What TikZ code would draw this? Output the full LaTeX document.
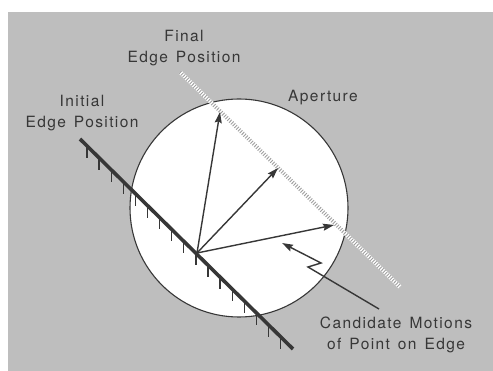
\documentclass[tikz,border=0pt]{standalone}
\usepackage{fontspec}
\setmainfont{TeX Gyre Heros}[LetterSpace=9,WordSpace=1.4]
\usetikzlibrary{arrows.meta,calc}
\definecolor{bggray}{RGB}{190,190,190}
\definecolor{ink}{RGB}{55,55,55}

\begin{document}
\begin{tikzpicture}[x=1pt,y=-1pt,
  lbl/.style={text=ink,font=\fontsize{15.5}{18}\selectfont,inner sep=0pt,align=center},
  arr/.style={draw=ink,line width=1.4pt,-{Stealth[length=11pt,width=7pt,inset=1.5pt]}},
  edge/.style={draw=ink,line width=3.6pt},
  tick/.style={draw=ink,line width=1.3pt}]
  \useasboundingbox (0,0) rectangle (493,371);
  \fill[bggray] (8,12) rectangle (493,371);
  \node[draw=ink,fill=white,line width=1.1pt,circle,minimum size=218pt,inner sep=0pt] (ap) at (239,208) {};
  % final edge, hatched
  \coordinate (fa) at (180,72);
  \coordinate (fb) at (400,287);
  \draw[white,line width=4pt] (fa) -- (fb);
  \draw[gray!75,line width=4pt,dash pattern=on 0.9pt off 1.6pt] (fa) -- (fb);
  % initial edge
  \coordinate (ia) at (80,139);
  \coordinate (ib) at (293,349);
  \draw[edge] (ia) -- (ib);
  \foreach \k in {0,...,16}
    \draw[tick] ($(ia)!{0.033+0.0568*\k}!(ib)$) -- ++(0,12);
  % motions
  \coordinate (o) at (197,253);
  \coordinate (m1) at (220,112);
  \coordinate (m2) at (278,168);
  \coordinate (m3) at (334,225);
  \foreach \m in {m1,m2,m3} \draw[arr] (o) -- (\m);
  % pointer
  \coordinate (p1) at (379,309);
  \coordinate (p2) at (308,267);
  \coordinate (p3) at (321,263);
  \coordinate (p4) at (282,243);
  \draw[arr] (p1) -- (p2) -- (p3) -- (p4);
  % labels
  \node[lbl] (fin) at (184,48) {Final\\[3pt]Edge Position};
  \node[lbl] (ini) at (82,113) {Initial\\[3pt]Edge Position};
  \node[lbl] (apl) at (323,98) {Aperture};
  \node[lbl] (cand) at (396,335) {Candidate Motions\\[3pt]of Point on Edge};
\end{tikzpicture}
\end{document}
